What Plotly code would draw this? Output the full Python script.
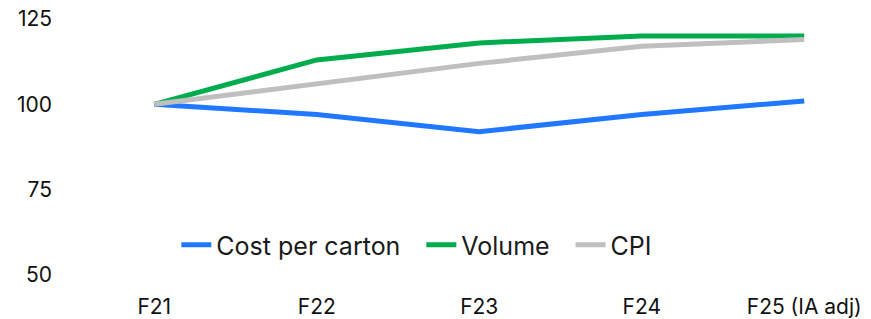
import plotly.graph_objects as go

categories = ["F21", "F22", "F23", "F24", "F25 (IA adj)"]
cost_per_carton = [100, 97, 92, 97, 101]
volume = [100, 113, 118, 120, 120]
cpi = [100, 106, 112, 117, 119]
y_ticks = [50, 75, 100, 125]

x_idx = list(range(len(categories)))

fig = go.Figure()
fig.add_trace(go.Scatter(x=x_idx, y=cost_per_carton, name="Cost per carton", mode="lines",
                         line=dict(color="#1F78FF", width=5), legend="legend"))
fig.add_trace(go.Scatter(x=x_idx, y=volume, name="Volume", mode="lines",
                         line=dict(color="#00AC4E", width=5), legend="legend2"))
fig.add_trace(go.Scatter(x=x_idx, y=cpi, name="CPI", mode="lines",
                         line=dict(color="#BFBFBF", width=5), legend="legend3"))

leg_common = dict(orientation="h", y=0.117, xanchor="left", yanchor="middle",
                  font=dict(size=25, family="Inter", color="#1a1a1a"),
                  bgcolor="rgba(0,0,0,0)")

fig.update_layout(
    width=871, height=319,
    margin=dict(l=73, r=0, t=19, b=44),
    paper_bgcolor="white", plot_bgcolor="white",
    font=dict(family="Inter", size=21, color="#111111"),
    showlegend=True,
    legend=dict(x=0.1295, **leg_common),
    legend2=dict(x=0.4365, **leg_common),
    legend3=dict(x=0.6235, **leg_common),
    xaxis=dict(range=[-0.5, 4.411], tickmode="array", tickvals=x_idx, ticktext=categories,
               showgrid=False, zeroline=False, showline=False, ticks="",
               ticklabelstandoff=17),
    yaxis=dict(range=[50, 125], tickmode="array", tickvals=y_ticks,
               showgrid=False, zeroline=False, showline=False, ticks="",
               ticklabelstandoff=20),
)

fig.write_html("out.html", config={"displayModeBar": False},
               post_script="document.body.style.margin='0';")
